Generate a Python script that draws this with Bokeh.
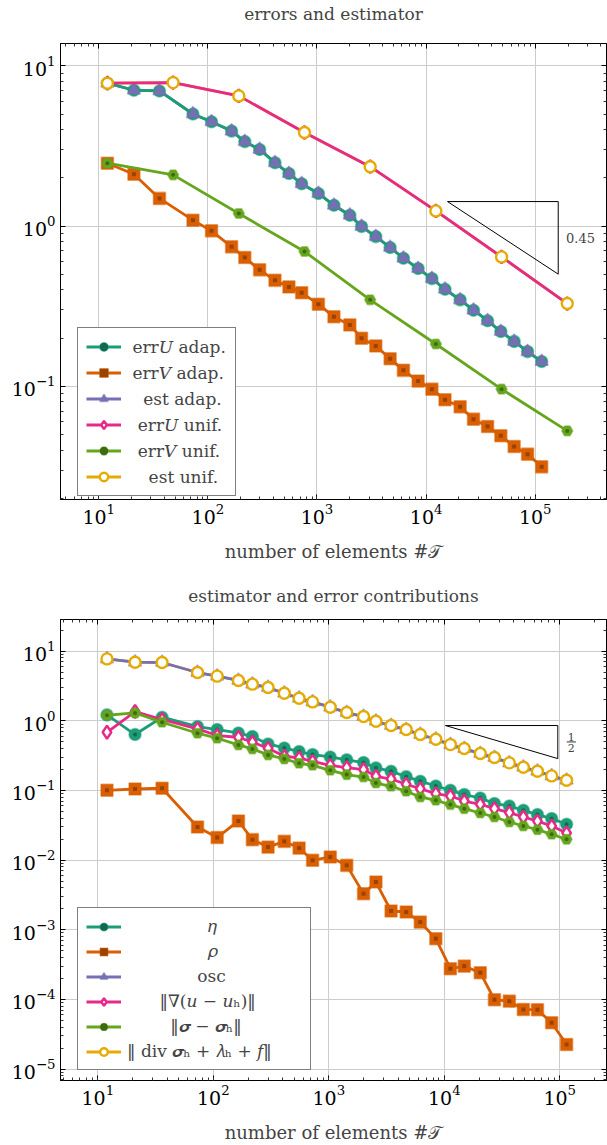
import math
from bokeh.plotting import figure
from bokeh.models import (LogAxis, FixedTicker, Legend, LegendItem, Label,
                          CustomJSTickFormatter, Title)
from bokeh.layouts import column
from bokeh.embed import file_html
from bokeh.resources import INLINE

# ---------------- data ----------------
n_adap = [12, 21, 36, 73, 108, 165, 218, 298, 412, 553, 724, 1030, 1430, 2000,
          2560, 3460, 4680, 6200, 8450, 11300, 14900, 20500, 27200, 36600,
          48400, 64100, 85100, 114600]
n_unif = [12, 48, 192, 768, 3072, 12288, 49152, 196608]

# top panel: errors and estimator
err_u_adap = [7.80, 7.05, 6.98, 5.01, 4.48, 3.92, 3.37, 3.01, 2.49, 2.13, 1.84,
              1.60, 1.35, 1.17, 0.995, 0.861, 0.736, 0.631, 0.544, 0.471,
              0.404, 0.347, 0.299, 0.257, 0.220, 0.191, 0.165, 0.143]
err_v_adap = [2.47, 2.11, 1.49, 1.09, 0.935, 0.743, 0.637, 0.534, 0.459, 0.418,
              0.384, 0.326, 0.272, 0.242, 0.200, 0.179, 0.149, 0.126, 0.108,
              0.0962, 0.0825, 0.0746, 0.0625, 0.0562, 0.0492, 0.0422, 0.0378,
              0.0315]
est_adap = [7.80, 7.05, 6.98, 5.01, 4.48, 3.92, 3.37, 3.01, 2.49, 2.13, 1.84,
            1.60, 1.35, 1.17, 0.995, 0.861, 0.736, 0.631, 0.544, 0.471,
            0.404, 0.347, 0.299, 0.257, 0.220, 0.191, 0.165, 0.143]
err_u_unif = [7.80, 7.87, 6.50, 3.84, 2.35, 1.245, 0.643, 0.329]
err_v_unif = [2.47, 2.09, 1.20, 0.695, 0.347, 0.184, 0.0962, 0.0528]
est_unif = [7.80, 7.87, 6.50, 3.84, 2.35, 1.245, 0.643, 0.329]

# bottom panel: estimator and error contributions
eta = [1.216, 0.636, 1.127, 0.828, 0.750, 0.670, 0.595, 0.466, 0.408, 0.362,
       0.328, 0.303, 0.276, 0.252, 0.211, 0.189, 0.158, 0.136, 0.116, 0.1007,
       0.0873, 0.0780, 0.0648, 0.0599, 0.0519, 0.0451, 0.0395, 0.0327]
rho = [0.1007, 0.105, 0.1076, 0.0299, 0.0211, 0.0365, 0.0197, 0.0154, 0.0186,
       0.0149, 0.00994, 0.0111, 0.00841, 0.00330, 0.00485, 0.00186, 0.00180,
       0.00129, 0.000745, 0.000276, 0.000301, 0.000242, 9.9e-5, 9.46e-5,
       7.18e-5, 7.11e-5, 4.62e-5, 2.25e-5]
osc = [7.75, 6.95, 6.88, 4.94, 4.38, 3.80, 3.36, 3.01, 2.49, 2.11, 1.87, 1.57,
       1.315, 1.153, 0.987, 0.856, 0.750, 0.636, 0.544, 0.456, 0.400, 0.339,
       0.297, 0.249, 0.216, 0.189, 0.162, 0.140]
grad_err = [0.685, 1.36, 1.045, 0.766, 0.615, 0.581, 0.493, 0.404, 0.310,
            0.293, 0.262, 0.230, 0.213, 0.200, 0.160, 0.146, 0.123, 0.106,
            0.0902, 0.0833, 0.0706, 0.0634, 0.0550, 0.0481, 0.0416, 0.0364,
            0.0309, 0.0245]
sigma_err = [1.202, 1.297, 0.955, 0.664, 0.562, 0.451, 0.395, 0.324, 0.284,
             0.246, 0.230, 0.195, 0.169, 0.156, 0.128, 0.115, 0.0974, 0.0807,
             0.0723, 0.0627, 0.0549, 0.0475, 0.0416, 0.0353, 0.0309, 0.0274,
             0.0235, 0.0199]
div_res = [7.75, 6.95, 6.88, 4.94, 4.38, 3.80, 3.36, 3.01, 2.49, 2.11, 1.87,
           1.57, 1.315, 1.153, 0.987, 0.856, 0.750, 0.636, 0.544, 0.456, 0.400,
           0.339, 0.297, 0.249, 0.216, 0.189, 0.162, 0.140]

# ticks and texts
x_ticks = [1e1, 1e2, 1e3, 1e4, 1e5]
y_ticks_top = [1e-1, 1e0, 1e1]
y_ticks_bot = [1e-5, 1e-4, 1e-3, 1e-2, 1e-1, 1e0, 1e1]

title_top = "errors and estimator"
title_bot = "estimator and error contributions"
x_label = "number of elements #\U0001D4AF"
NB = "\u00a0"
labels_top = [NB + "err\U0001D448 adap.", NB + "err\U0001D449 adap.", NB * 3 + "est adap.",
              NB * 2 + "err\U0001D448 unif.", NB * 2 + "err\U0001D449 unif.", NB * 4 + "est unif."]
labels_bot = [NB * 15 + "\U0001D702", NB * 15 + "\U0001D70C", NB * 13 + "osc",
              NB * 6 + "\u2016\u2207(\U0001D462 \u2212 \U0001D462\u2095)\u2016",
              NB * 8 + "\u2016\U0001D748 \u2212 \U0001D748\u2095\u2016",
              "\u2016 div \U0001D748\u2095 + \U0001D706\u2095 + \U0001D453\u2016"]
slope_top_text = "0.45"

# slope triangles (annotation corners)
tri_top_x = [15700, 162500, 162500, 15700]
tri_top_y = [1.424, 1.424, 0.502, 1.424]
tri_bot_x = [10240, 96200, 96200, 10240]
tri_bot_y = [0.856, 0.856, 0.287, 0.856]

# ---------------- style ----------------
SERIF = "DejaVu Serif"
C_TEAL, C_ORANGE, C_PURPLE = "#1b9e77", "#d95f02", "#7570b3"
C_PINK, C_GREEN, C_YELLOW = "#e7298a", "#66a61e", "#e6ab02"
DOT = {C_TEAL: "#11694f", C_ORANGE: "#9a4300", C_GREEN: "#3f6b10"}
LW = 2.8
FRAME_W = 546


def minor_ticks(lo, hi):
    out = []
    for d in range(math.floor(math.log10(lo)), math.ceil(math.log10(hi)) + 1):
        for k in range(2, 10):
            v = k * 10.0 ** d
            if lo <= v <= hi:
                out.append(v)
    return out


def make_fig(title, xr, yr, yt, fh, bt, bb, title_gap):
    p = figure(x_axis_type="log", y_axis_type="log", x_range=xr, y_range=yr,
               frame_width=FRAME_W, frame_height=fh, min_border_left=60,
               min_border_right=1, min_border_top=bt, min_border_bottom=bb,
               output_backend="svg", toolbar_location=None,
               title=Title(text=title, text_font=SERIF, text_font_style="normal",
                           text_font_size="17px", align="center", standoff=0))
    xtick = FixedTicker(ticks=x_ticks, minor_ticks=minor_ticks(*xr))
    ytick = FixedTicker(ticks=yt, minor_ticks=minor_ticks(*yr))
    top_ax = LogAxis(ticker=xtick, formatter=CustomJSTickFormatter(code="return ''"))
    right_ax = LogAxis(ticker=ytick, formatter=CustomJSTickFormatter(code="return ''"))
    p.add_layout(top_ax, "above")
    p.add_layout(right_ax, "right")
    p.xaxis[0].ticker = xtick
    p.yaxis[0].ticker = ytick
    for ax in list(p.xaxis) + list(p.yaxis):
        ax.major_tick_in = 5
        ax.major_tick_out = 0
        ax.minor_tick_in = 3
        ax.minor_tick_out = 0
        ax.axis_line_color = "black"
        ax.major_tick_line_color = "black"
        ax.minor_tick_line_color = "#333333"
        ax.major_label_text_font = SERIF
        ax.major_label_text_font_size = "19px"
        ax.major_label_text_color = "black"
        ax.major_label_standoff = 5
    top_ax.major_label_standoff = 0
    # the (blank) top axis label only reserves room between frame and title
    top_ax.axis_label = " "
    top_ax.axis_label_text_font_size = "1px"
    top_ax.axis_label_standoff = title_gap
    right_ax.major_label_standoff = 0
    for ax in p.below:
        ax.major_label_standoff = 4
        ax.axis_label = x_label
        ax.axis_label_text_font = SERIF
        ax.axis_label_text_font_style = "normal"
        ax.axis_label_text_font_size = "18px"
        ax.axis_label_standoff = 14
    p.xgrid.ticker = xtick
    p.ygrid.ticker = ytick
    p.grid.grid_line_color = "#cccccc"
    p.grid.grid_line_width = 1
    p.outline_line_color = "black"
    p.background_fill_color = "white"
    return p


def add_line(p, x, y, color):
    return p.line(x, y, line_color=color, line_width=LW)


def add_marks(p, x, y, color, marker, size, hollow=False):
    if hollow:
        r = p.scatter(x, y, marker=marker, size=size, fill_color="white",
                      line_color=color, line_width=2.4)
        return [r]
    r = p.scatter(x, y, marker=marker, size=size, fill_color=color,
                  line_color=color, line_alpha=0.5, line_width=1.6)
    out = [r]
    if color in DOT:
        d = p.scatter(x, y, marker="square" if marker == "square" else "circle",
                      size=4, fill_color=DOT[color], line_color=None)
        out.append(d)
    return out


# ---------------- top figure ----------------
p1 = make_fig(title_top, (4.46, 4.5e5), (0.0197, 13.8), y_ticks_top, 456, 43, 76, 16)
l_est_u = add_line(p1, n_unif, est_unif, C_YELLOW)
l_est_a = add_line(p1, n_adap, est_adap, C_PURPLE)
l1 = add_line(p1, n_adap, err_u_adap, C_TEAL)
m1 = add_marks(p1, n_adap, err_u_adap, C_TEAL, "circle", 12)
l2 = add_line(p1, n_adap, err_v_adap, C_ORANGE)
m2 = add_marks(p1, n_adap, err_v_adap, C_ORANGE, "square", 12)
m3 = add_marks(p1, n_adap, est_adap, C_PURPLE, "triangle", 13)
l4 = add_line(p1, n_unif, err_u_unif, C_PINK)
m4 = add_marks(p1, n_unif, err_u_unif, C_PINK, "diamond", 13, hollow=True)
l5 = add_line(p1, n_unif, err_v_unif, C_GREEN)
m5 = add_marks(p1, n_unif, err_v_unif, C_GREEN, "hex", 11)
m6 = add_marks(p1, n_unif, est_unif, C_YELLOW, "circle", 11, hollow=True)
p1.line(tri_top_x, tri_top_y, line_color="black", line_width=1)
p1.add_layout(Label(x=2.6e5, y=0.84, text=slope_top_text, text_font=SERIF,
                    text_font_size="13px", text_align="center",
                    text_baseline="middle"))
items1 = [LegendItem(label=labels_top[0], renderers=[l1] + m1),
          LegendItem(label=labels_top[1], renderers=[l2] + m2),
          LegendItem(label=labels_top[2], renderers=[l_est_a] + m3),
          LegendItem(label=labels_top[3], renderers=[l4] + m4),
          LegendItem(label=labels_top[4], renderers=[l5] + m5),
          LegendItem(label=labels_top[5], renderers=[l_est_u] + m6)]
leg1 = Legend(items=items1, location=(17, 3))
p1.add_layout(leg1)

# ---------------- bottom figure ----------------
p2 = make_fig(title_bot, (4.75, 2.54e5), (6.86e-6, 28.5), y_ticks_bot, 461, 44, 65, 10)
k_div = add_line(p2, n_adap, div_res, C_YELLOW)
k1 = add_line(p2, n_adap, eta, C_TEAL)
n1 = add_marks(p2, n_adap, eta, C_TEAL, "circle", 12)
k2 = add_line(p2, n_adap, rho, C_ORANGE)
n2 = add_marks(p2, n_adap, rho, C_ORANGE, "square", 12)
k3 = add_line(p2, n_adap, osc, C_PURPLE)
n3 = add_marks(p2, n_adap, osc, C_PURPLE, "triangle", 13)
k4 = add_line(p2, n_adap, grad_err, C_PINK)
n4 = add_marks(p2, n_adap, grad_err, C_PINK, "diamond", 13, hollow=True)
k5 = add_line(p2, n_adap, sigma_err, C_GREEN)
n5 = add_marks(p2, n_adap, sigma_err, C_GREEN, "hex", 11)
n6 = add_marks(p2, n_adap, div_res, C_YELLOW, "circle", 11, hollow=True)
p2.line(tri_bot_x, tri_bot_y, line_color="black", line_width=1)
p2.add_layout(Label(x=1.26e5, y=0.588, text="1", text_font=SERIF,
                    text_font_size="11px", text_align="center",
                    text_baseline="middle"))
p2.add_layout(Label(x=1.26e5, y=0.408, text="2", text_font=SERIF,
                    text_font_size="11px", text_align="center",
                    text_baseline="middle"))
p2.line([1.15e5, 1.38e5], [0.498, 0.498], line_color="black", line_width=0.8)
items2 = [LegendItem(label=labels_bot[0], renderers=[k1] + n1),
          LegendItem(label=labels_bot[1], renderers=[k2] + n2),
          LegendItem(label=labels_bot[2], renderers=[k3] + n3),
          LegendItem(label=labels_bot[3], renderers=[k4] + n4),
          LegendItem(label=labels_bot[4], renderers=[k5] + n5),
          LegendItem(label=labels_bot[5], renderers=[k_div] + n6)]
leg2 = Legend(items=items2, location=(17, 10))
p2.add_layout(leg2)

for lg, lh, lw in ((leg1, 21, 100), (leg2, 19, 175)):
    lg.label_text_font = SERIF
    lg.label_text_font_size = "17px"
    lg.glyph_width = 35
    lg.glyph_height = lh
    lg.label_height = lh
    lg.label_width = lw
    lg.spacing = 5
    lg.padding = 8
    lg.margin = 0
    lg.label_standoff = 6
    lg.border_line_color = "black"
    lg.border_line_width = 1
    lg.background_fill_alpha = 1.0

layout = column(p1, p2, spacing=0)
open("out.html", "w").write(file_html(layout, INLINE))
